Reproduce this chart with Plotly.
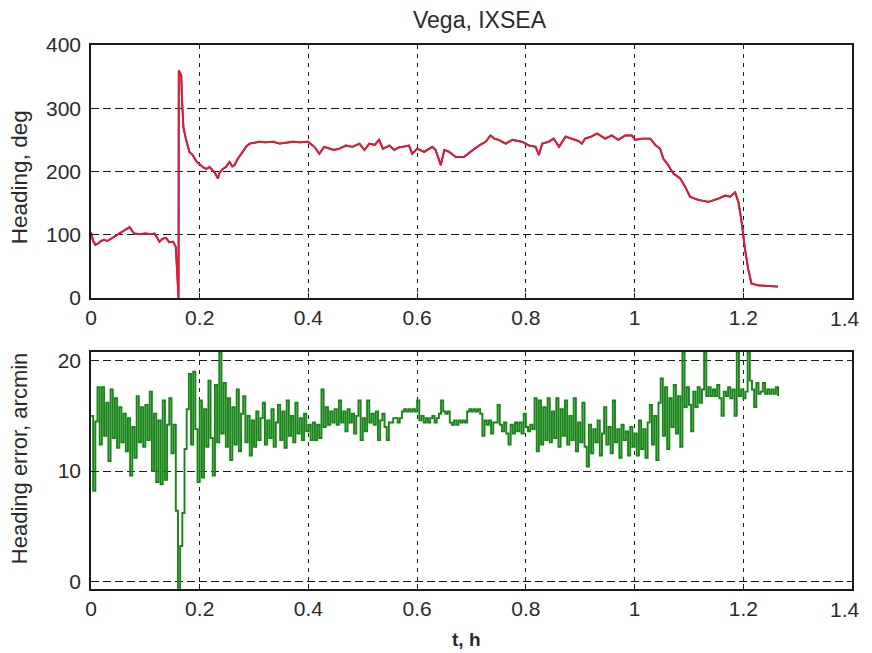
import plotly.graph_objects as go

# ---- top panel: heading (deg) ----
t_head = [0.000, 0.004, 0.008, 0.013, 0.018, 0.024, 0.030, 0.039, 0.047, 0.056,
          0.063, 0.071, 0.079, 0.090, 0.100, 0.110, 0.117, 0.126, 0.132, 0.138,
          0.144, 0.151, 0.156, 0.1596, 0.161, 0.1615, 0.166, 0.1675, 0.170, 0.175,
          0.181, 0.187, 0.194, 0.2055, 0.212, 0.218, 0.227, 0.2336, 0.236, 0.241,
          0.248, 0.255, 0.260, 0.264, 0.270, 0.279, 0.286, 0.292, 0.300, 0.310,
          0.320, 0.335, 0.347, 0.360, 0.371, 0.385, 0.399, 0.411, 0.420, 0.429,
          0.439, 0.447, 0.457, 0.469, 0.481, 0.494, 0.503, 0.512, 0.522, 0.530,
          0.537, 0.549, 0.558, 0.566, 0.573, 0.585, 0.591, 0.600, 0.613, 0.628,
          0.634, 0.6435, 0.650, 0.659, 0.671, 0.686, 0.698, 0.714, 0.726, 0.735,
          0.742, 0.750, 0.763, 0.775, 0.793, 0.806, 0.818, 0.824, 0.830, 0.842,
          0.851, 0.861, 0.873, 0.885, 0.897, 0.903, 0.909, 0.920, 0.931, 0.946,
          0.958, 0.970, 0.983, 0.995, 1.001, 1.013, 1.029, 1.038, 1.047, 1.053,
          1.062, 1.071, 1.084, 1.093, 1.102, 1.117, 1.136, 1.154, 1.167, 1.176,
          1.185, 1.191, 1.197, 1.203, 1.209, 1.215, 1.227, 1.245, 1.264]
h_head = [104, 90, 84, 86, 90, 92, 90, 95, 99, 104,
          107, 112, 102, 101, 102, 101, 102, 89, 94, 95,
          88, 89, 81, 28, 0, 360, 352, 313, 270, 250,
          231, 226, 216, 207, 204, 207, 199, 189, 197, 203,
          207, 215, 208, 210, 220, 231, 240, 244, 245, 247,
          246, 247, 244, 246, 247, 246, 247, 239, 228, 239,
          236, 234, 236, 241, 239, 244, 234, 244, 242, 250,
          236, 241, 234, 238, 239, 241, 228, 236, 231, 239,
          234, 210, 234, 231, 223, 223, 231, 241, 247, 257,
          252, 250, 244, 250, 247, 241, 239, 226, 244, 247,
          252, 239, 255, 252, 248, 244, 252, 255, 260, 252,
          257, 250, 257, 257, 250, 252, 252, 242, 236, 220,
          210, 197, 189, 176, 160, 155, 152, 157, 162, 160,
          167, 152, 120, 78, 46, 23, 20, 19, 18]

# ---- bottom panel: heading error (arcmin), sampled every 0.004 h from t = 0 ----
err_t0 = 0.0
err_dt = 0.004
err = [
    15.0, 8.2, 14.5, 17.6, 12.4, 17.6, 13.2, 16.2, 10.9, 17.4, 13.0, 16.6, 12.1, 15.8, 12.6, 15.2, 11.8, 14.8, 9.6, 14.0, 11.2, 16.8, 12.6, 15.8, 12.2,
    16.0, 12.8, 17.2, 10.0, 15.2, 9.0, 14.6, 8.8, 16.4, 9.2, 14.2, 16.6, 11.6, 14.2, 6.4, -0.6, 3.2, 6.2, 12.0, 15.6, 18.8, 12.4, 19.0, 13.8, 9.0,
    16.4, 9.4, 15.6, 12.2, 18.2, 13.0, 9.6, 17.8, 12.6, 20.8, 13.4, 18.0, 12.2, 16.6, 11.0, 15.8, 12.4, 17.4, 11.8, 15.2, 16.8, 12.6, 15.0, 11.4, 14.6,
    12.2, 15.4, 12.8, 14.8, 16.2, 12.4, 14.6, 13.0, 15.6, 12.2, 14.4, 16.0, 12.8, 15.4, 12.1, 16.4, 13.2, 15.0, 12.6, 16.2, 13.4, 14.8, 12.8, 15.2, 13.6,
    14.2, 12.8, 14.4, 12.8, 14.2, 13.0, 17.4, 14.0, 15.8, 14.2, 15.4, 14.4, 15.6, 14.2, 16.4, 14.4, 15.4, 13.6, 15.6, 14.4, 15.2, 13.4, 15.0, 16.4, 12.8,
    14.8, 13.6, 16.4, 14.4, 15.2, 14.2, 15.4, 12.8, 14.6, 15.2, 14.0, 12.8, 14.4, 14.4, 14.8, 14.8, 14.4, 14.8, 15.4, 15.6, 15.4, 15.6, 15.4, 15.6, 15.4,
    16.4, 14.6, 15.0, 14.4, 14.8, 14.4, 14.8, 15.0, 14.4, 14.8, 15.2, 16.4, 15.4, 15.2, 15.4, 14.4, 14.2, 14.6, 14.2, 14.6, 14.4, 14.6, 14.4, 15.4, 15.6,
    15.4, 15.6, 15.4, 15.6, 15.2, 13.2, 14.6, 14.2, 14.6, 13.4, 14.4, 14.4, 16.0, 14.2, 13.6, 14.4, 13.4, 12.4, 14.2, 13.4, 14.4, 13.6, 14.4, 13.4, 15.2,
    14.0, 13.6, 14.2, 13.8, 16.6, 11.8, 16.4, 12.4, 15.8, 12.8, 16.6, 12.6, 15.4, 13.0, 16.6, 12.2, 15.6, 13.2, 16.4, 12.4, 15.0, 12.8, 16.6, 11.8, 14.4,
    12.6, 16.2, 12.2, 10.4, 14.2, 11.6, 13.8, 12.6, 14.6, 11.4, 13.4, 15.8, 12.4, 14.0, 11.6, 16.4, 12.6, 13.8, 11.2, 14.2, 12.8, 13.6, 11.4, 14.0, 12.2,
    13.4, 11.4, 14.6, 12.0, 13.8, 11.2, 14.4, 16.0, 12.4, 15.0, 11.0, 16.2, 18.4, 13.2, 17.6, 12.0, 16.6, 14.0, 17.8, 13.4, 16.8, 12.2, 20.8, 15.8, 17.6,
    16.0, 13.6, 17.2, 15.8, 17.6, 16.2, 17.4, 20.8, 16.8, 17.6, 16.8, 17.4, 16.8, 17.8, 16.6, 15.0, 17.2, 16.8, 17.6, 16.6, 17.4, 15.0, 20.8, 16.8, 17.4,
    16.6, 17.2, 20.8, 18.2, 17.4, 15.8, 18.0, 17.0, 17.2, 18.0, 17.0, 17.4, 17.0, 17.4, 17.0, 17.6, 16.8,
]

x_ticks = [0, 0.2, 0.4, 0.6, 0.8, 1.0, 1.2, 1.4]
x_ticklabels = ["0", "0.2", "0.4", "0.6", "0.8", "1", "1.2", ""]  # last label drawn as annotation
x_last_label = "1.4"
y1_ticks = [0, 100, 200, 300, 400]
y2_ticks = [0, 10, 20]

FONT = "Liberation Sans, Arial, Helvetica, sans-serif"
W, H = 864, 653
ML, MR, MT, MB = 91, 10, 45, 64
TICK_FONT = dict(family=FONT, size=21, color="#2a2a2a")

fig = go.Figure()
fig.add_trace(go.Scatter(x=t_head, y=h_head, mode="lines",
                         line=dict(color="#2020d0", width=1.9), xaxis="x", yaxis="y",
                         showlegend=False, hoverinfo="skip"))
fig.add_trace(go.Scatter(x=t_head, y=h_head, mode="lines",
                         line=dict(color="#f01a1a", width=1.8), xaxis="x", yaxis="y",
                         showlegend=False))
fig.add_trace(go.Scatter(x0=err_t0, dx=err_dt, y=err, mode="lines",
                         line=dict(color="#168416", width=1.9, shape="hv"),
                         xaxis="x2", yaxis="y2", showlegend=False))

axis_common = dict(
    showline=True, linecolor="#1a1a1a", linewidth=1.6, mirror=True,
    ticks="inside", ticklen=5, tickcolor="#1a1a1a", tickwidth=1,
    showgrid=True, gridcolor="#1a1a1a", gridwidth=1.4,
    zeroline=False, tickfont=TICK_FONT,
)

fig.update_layout(
    width=W, height=H, autosize=False,
    paper_bgcolor="white", plot_bgcolor="white",
    margin=dict(l=ML, r=MR, t=MT, b=MB),
    xaxis=dict(axis_common, domain=[0, 1], range=[0, 1.4], anchor="y",
               tickvals=x_ticks, ticktext=x_ticklabels, griddash="4px,5px"),
    yaxis=dict(axis_common, domain=[0.535, 1.0], range=[0, 400], anchor="x",
               tickvals=y1_ticks, griddash="8px,4px", ticklabelstandoff=4),
    xaxis2=dict(axis_common, domain=[0, 1], range=[0, 1.4], anchor="y2",
                tickvals=x_ticks, ticktext=x_ticklabels, griddash="4px,5px"),
    yaxis2=dict(axis_common, domain=[0, 0.4357], range=[-0.7, 20.8], anchor="x2",
                tickvals=y2_ticks, griddash="8px,4px", ticklabelstandoff=4),
)

def px_to_paper(px, py):
    return (px - ML) / (W - ML - MR), (H - MB - py) / (H - MT - MB)

def label(text, px, py, size, angle=0):
    x, y = px_to_paper(px, py)
    return dict(text=text, x=x, y=y, xref="paper", yref="paper", textangle=angle,
                xanchor="center", yanchor="middle", showarrow=False,
                font=dict(family=FONT, size=size, color="#2a2a2a"))

ann = [
    label("Vega, IXSEA", 481, 20, 23),
    label("Heading, deg", 19, 177, 22.5, -90),
    label("Heading error, arcmin", 19, 458, 22, -90),
    label("<b>t, h</b>", 467, 639, 19),
]
# the "1.4" labels at the right end of both time axes, kept inside the page
for ax_y, py in (("y", 318), ("y2", 609)):
    _, y = px_to_paper(0, py)
    ann.append(dict(text=x_last_label, x=x_ticks[-1], xref="x", y=y, yref="paper",
                    xanchor="right", yanchor="middle", xshift=10, showarrow=False,
                    font=TICK_FONT))
fig.update_layout(annotations=ann)

post = ("document.body.style.margin='0';document.body.style.padding='0';"
        "Plotly.relayout('{plot_id}', {width: 864, height: 653});")
fig.write_html("out.html", post_script=post, config={"displayModeBar": False})
